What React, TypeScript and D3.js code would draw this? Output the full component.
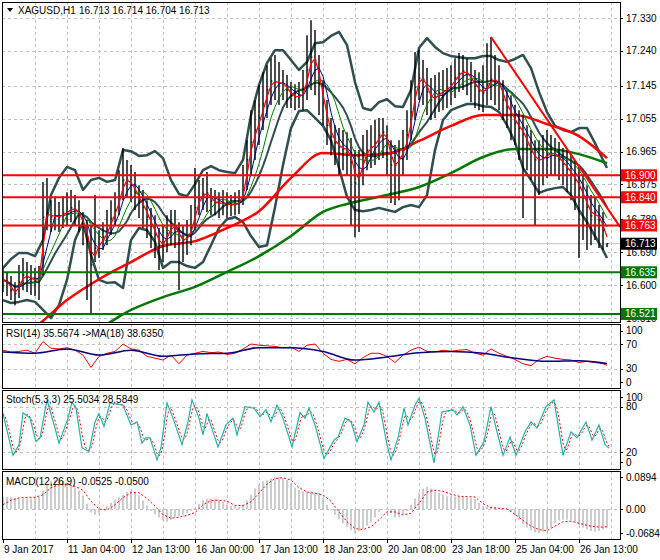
import * as d3 from "d3";

// ---- price bars (one entry per 2 hourly bars) ----
const closes = [
  16.614, 16.606, 16.586, 16.576, 16.608, 16.627, 16.622, 16.617, 16.611, 16.619,
  16.786, 16.797, 16.786, 16.789, 16.786, 16.797, 16.8, 16.811, 16.805, 16.791,
  16.759, 16.731, 16.655, 16.701, 16.712, 16.731, 16.75, 16.783, 16.805, 16.841,
  16.887, 16.887, 16.873, 16.854, 16.83, 16.813, 16.786, 16.761, 16.737, 16.709,
  16.715, 16.742, 16.761, 16.761, 16.723, 16.723, 16.731, 16.756, 16.811, 16.838,
  16.849, 16.852, 16.83, 16.824, 16.824, 16.824, 16.819, 16.819, 16.822, 16.827,
  16.86, 16.942, 16.991, 17.024, 17.057, 17.095, 17.133, 17.158, 17.155, 17.152,
  17.149, 17.133, 17.117, 17.114, 17.117, 17.125, 17.188, 17.223, 17.215, 17.147,
  17.098, 17.037, 17.005, 16.988, 16.977, 16.972, 16.969, 16.936, 16.879, 16.901,
  16.95, 16.969, 16.977, 16.988, 17.01, 17.018, 16.988, 16.928, 16.928, 16.95,
  16.969, 17.01, 17.073, 17.141, 17.166, 17.163, 17.128, 17.106, 17.114, 17.125,
  17.13, 17.138, 17.149, 17.166, 17.179, 17.185, 17.177, 17.16, 17.144, 17.13,
  17.125, 17.147, 17.163, 17.16, 17.147, 17.106, 17.084, 17.065, 17.043, 17.029,
  17.013, 16.983, 16.964, 16.942, 16.942, 16.947, 16.958, 16.961, 16.958, 16.942,
  16.931, 16.917, 16.901, 16.887, 16.865, 16.838, 16.813, 16.789, 16.797, 16.778,
  16.75, 16.713,
];
const highs = [
  16.647, 16.636, 16.625, 16.608, 16.655, 16.674, 16.663, 16.655, 16.647, 16.652,
  16.882, 16.893, 16.832, 16.838, 16.827, 16.843, 16.854, 16.86, 16.846, 16.832,
  16.8, 16.778, 16.764, 16.846, 16.75, 16.772, 16.805, 16.832, 16.854, 16.914,
  16.975, 16.942, 16.928, 16.909, 16.873, 16.86, 16.832, 16.811, 16.791, 16.756,
  16.764, 16.791, 16.805, 16.805, 16.772, 16.764, 16.778, 16.819, 16.92, 16.887,
  16.893, 16.909, 16.865, 16.86, 16.854, 16.86, 16.854, 16.846, 16.854, 16.86,
  16.928, 16.996, 17.078, 17.106, 17.147, 17.182, 17.201, 17.22, 17.229, 17.21,
  17.188, 17.174, 17.155, 17.149, 17.155, 17.188, 17.283, 17.324, 17.297, 17.229,
  17.16, 17.106, 17.057, 17.037, 17.029, 17.024, 17.018, 17.002, 16.969, 16.969,
  17.01, 17.024, 17.037, 17.051, 17.057, 17.057, 17.037, 16.996, 16.983, 16.996,
  17.024, 17.078, 17.16, 17.237, 17.242, 17.215, 17.193, 17.166, 17.174, 17.182,
  17.188, 17.193, 17.201, 17.22, 17.234, 17.229, 17.22, 17.21, 17.188, 17.182,
  17.201, 17.261, 17.278, 17.229, 17.201, 17.16, 17.133, 17.119, 17.092, 17.078,
  17.065, 17.037, 17.024, 16.996, 16.996, 17.01, 17.024, 17.01, 17.002, 16.991,
  16.975, 16.969, 16.955, 16.942, 16.928, 16.901, 16.873, 16.846, 16.838, 16.819,
  16.8, 16.714,
];
const lows = [
  16.581, 16.57, 16.559, 16.545, 16.565, 16.586, 16.581, 16.573, 16.57, 16.559,
  16.627, 16.75, 16.745, 16.75, 16.745, 16.756, 16.761, 16.772, 16.764, 16.745,
  16.709, 16.559, 16.524, 16.663, 16.674, 16.696, 16.709, 16.737, 16.764, 16.791,
  16.832, 16.838, 16.827, 16.805, 16.783, 16.756, 16.729, 16.701, 16.674, 16.641,
  16.663, 16.69, 16.709, 16.701, 16.586, 16.663, 16.682, 16.709, 16.75, 16.791,
  16.805, 16.8, 16.791, 16.791, 16.783, 16.791, 16.783, 16.789, 16.791, 16.794,
  16.819, 16.86, 16.901, 16.942, 16.983, 17.024, 17.057, 17.092, 17.106, 17.092,
  17.106, 17.084, 17.084, 17.078, 17.084, 17.078, 17.106, 17.133, 17.119, 17.065,
  17.037, 16.983, 16.955, 16.928, 16.901, 16.914, 16.901, 16.764, 16.731, 16.745,
  16.873, 16.914, 16.92, 16.928, 16.942, 16.947, 16.901, 16.824, 16.819, 16.832,
  16.901, 16.942, 16.996, 17.051, 17.106, 17.092, 17.065, 17.051, 17.057, 17.073,
  17.078, 17.084, 17.092, 17.111, 17.128, 17.133, 17.119, 17.1, 17.084, 17.078,
  17.073, 17.092, 17.106, 17.092, 17.078, 17.051, 17.029, 16.996, 16.983, 16.942,
  16.783, 16.914, 16.887, 16.764, 16.846, 16.873, 16.893, 16.901, 16.901, 16.887,
  16.873, 16.854, 16.832, 16.805, 16.674, 16.723, 16.696, 16.709, 16.723, 16.701,
  16.696, 16.704,
];

// bollinger bands, one value every 2 entries above
const bbUpper = [
  16.647, 16.671, 16.688, 16.688, 16.679, 16.723, 16.846, 16.893, 16.923, 16.914,
  16.86, 16.887, 16.893, 16.882, 16.887, 16.969, 16.966, 16.953, 16.955, 16.966,
  16.947, 16.887, 16.849, 16.843, 16.876, 16.914, 16.925, 16.914, 16.909, 16.906,
  16.942, 17.065, 17.147, 17.207, 17.242, 17.242, 17.215, 17.188, 17.21, 17.261,
  17.264, 17.281, 17.292, 17.256, 17.155, 17.084, 17.078, 17.1, 17.108, 17.089,
  17.087, 17.133, 17.248, 17.275, 17.251, 17.234, 17.226, 17.223, 17.22, 17.22,
  17.226, 17.226, 17.215, 17.21, 17.218, 17.229, 17.193, 17.128, 17.073, 17.035,
  17.024, 17.018, 17.029, 17.029, 16.988, 16.942, 16.92,
];
const bbLower = [
  16.559, 16.551, 16.554, 16.559, 16.554, 16.532, 16.51, 16.545, 16.614, 16.723,
  16.772, 16.682, 16.614, 16.606, 16.608, 16.592, 16.723, 16.756, 16.75, 16.718,
  16.647, 16.663, 16.663, 16.652, 16.647, 16.663, 16.709, 16.756, 16.78, 16.786,
  16.772, 16.734, 16.704, 16.709, 16.813, 16.928, 17.029, 17.076, 17.078, 17.057,
  17.035, 16.996, 16.92, 16.841, 16.805, 16.802, 16.805, 16.811, 16.805, 16.8,
  16.813, 16.819, 16.813, 16.846, 16.969, 17.051, 17.078, 17.087, 17.095, 17.095,
  17.089, 17.087, 17.073, 17.037, 16.991, 16.92, 16.887, 16.852, 16.86, 16.865,
  16.868, 16.846, 16.805, 16.772, 16.734, 16.696, 16.674,
];

// slow moving averages, one value every 8 entries
const maRed = [
  16.436, 16.485, 16.559, 16.616, 16.663, 16.707, 16.72, 16.756, 16.802, 16.893,
  16.961, 16.955, 16.958, 16.994, 17.035, 17.065, 17.065, 17.04, 17.007, 16.947,
];
const maGreen = [
  16.395, 16.428, 16.461, 16.483, 16.532, 16.567, 16.595, 16.636, 16.679, 16.734,
  16.8, 16.827, 16.846, 16.868, 16.906, 16.95, 16.972, 16.972, 16.958, 16.933,
];

const resistance = [16.9, 16.84, 16.763];
const support = [16.635, 16.521];
const lastPrice = 16.713;
const trendStart = { bar: 122, price: 17.278 };
const trendEnd = { bar: 154.25, price: 16.759 };

const priceTicks = [17.33, 17.24, 17.145, 17.055, 16.965, 16.875, 16.78, 16.69, 16.6, 16.51];
const timeLabels = [
  "9 Jan 2017", "11 Jan 04:00", "12 Jan 13:00", "16 Jan 00:00", "17 Jan 13:00",
  "18 Jan 23:00", "20 Jan 08:00", "23 Jan 18:00", "25 Jan 04:00", "26 Jan 13:00",
];

// RSI(14) every 2 entries, MA(18) of it every 8 entries
const rsi = [
  60, 57, 58, 60, 55, 74, 63, 62, 64, 60,
  52, 32, 50, 55, 58, 70, 62, 60, 50, 47,
  44, 52, 38, 52, 55, 58, 56, 57, 53, 55,
  62, 70, 68, 67, 66, 64, 65, 58, 68, 70,
  55, 45, 42, 45, 38, 48, 55, 55, 50, 40,
  52, 60, 65, 58, 57, 60, 58, 60, 61, 55,
  52, 62, 55, 50, 45, 38, 35, 45, 50, 47,
  45, 44, 40, 42, 40, 38, 35.6,
];
const rsiMa = [57, 55, 62, 52, 60, 50, 54, 55, 64, 64, 58, 44, 49, 56, 58, 55, 47, 42, 43, 38.6];

// Stochastic %K turning points (position in entries, value)
const stochT = [
  0, 2.5, 4, 5, 6.75, 8.25, 9.25, 11, 13, 14, 16.25, 17.25, 18.25, 19.75, 21.5, 23, 24, 25.25,
  26.75, 30, 32, 33.5, 34.75, 35.75, 36.75, 38.5, 39.5, 41, 42.5, 44.75, 46.25, 47.25, 49, 50,
  51, 52.75, 53.75, 55.75, 57.5, 58.5, 60.5, 62.75, 64.25, 65.75, 67, 68.5, 70, 72.25, 74.25,
  75.5, 76.5, 78, 80.25, 82.75, 83.75, 85.5, 87, 88.5, 90.25, 91.25, 92.75, 94, 96, 97, 98.75,
  100.25, 101.25, 103, 104, 105.5, 107.75, 109.75, 112.5, 113.5, 115, 116.75, 118.25, 120.25,
  122, 123.5, 125, 126.75, 128.25, 130.5, 132, 133.5, 135.75, 137.75, 140, 142, 143.5, 145.75,
  147.25, 149, 150.5, 151.5,
];
const stochK = [
  71, 16, 30, 72, 65, 34, 39, 89, 52, 32, 65, 86, 78, 26, 21, 60, 71, 54, 85, 82, 56, 60, 32,
  39, 39, 10, 26, 85, 65, 30, 60, 89, 65, 43, 71, 43, 27, 56, 65, 43, 80, 78, 67, 76, 60, 82,
  65, 27, 72, 65, 78, 56, 12, 36, 40, 65, 60, 34, 56, 86, 73, 86, 30, 10, 39, 78, 56, 82, 91,
  65, 6, 73, 76, 69, 80, 56, 16, 34, 80, 47, 16, 40, 16, 47, 60, 52, 80, 89, 16, 47, 39, 60,
  36, 56, 30, 25.5,
];

// MACD(12,26,9) main, one per entry; signal every 2 entries
const macd = [
  0.034, 0.034, 0.033, 0.031, 0.03, 0.03, 0.03, 0.03, 0.031, 0.034,
  0.052, 0.07, 0.079, 0.082, 0.086, 0.08, 0.074, 0.068, 0.061, 0.052,
  0.038, 0.015, -0.01, -0.016, -0.012, -0.002, 0.008, 0.018, 0.027, 0.033,
  0.04, 0.048, 0.051, 0.049, 0.038, 0.024, 0.01, -0.005, -0.015, -0.024,
  -0.031, -0.036, -0.03, -0.022, -0.02, -0.016, -0.011, -0.005, 0.003, 0.015,
  0.025, 0.029, 0.03, 0.028, 0.025, 0.02, 0.013, 0.009, 0.007, 0.006,
  0.012, 0.024, 0.04, 0.058, 0.07, 0.078, 0.082, 0.086, 0.089, 0.091,
  0.088, 0.082, 0.072, 0.06, 0.054, 0.05, 0.049, 0.05, 0.048, 0.045,
  0.032, 0.012, -0.002, -0.016, -0.028, -0.04, -0.05, -0.06, -0.068, -0.062,
  -0.056, -0.047, -0.038, -0.024, -0.008, 0.0, 0.002, -0.012, -0.024, -0.024,
  -0.016, -0.006, 0.012, 0.03, 0.046, 0.058, 0.063, 0.058, 0.05, 0.045,
  0.04, 0.036, 0.035, 0.035, 0.036, 0.035, 0.033, 0.031, 0.028, 0.018,
  0.008, 0.006, 0.007, 0.005, 0.003, 0.001, -0.003, -0.008, -0.018, -0.03,
  -0.042, -0.052, -0.06, -0.066, -0.068, -0.064, -0.06, -0.052, -0.04, -0.032,
  -0.03, -0.03, -0.031, -0.036, -0.045, -0.053, -0.058, -0.062, -0.064, -0.062,
  -0.058, -0.0525,
];
const macdSignal = [
  0.012, 0.025, 0.031, 0.033, 0.033, 0.04, 0.06, 0.069, 0.07, 0.064,
  0.053, 0.022, 0.0, -0.003, 0.012, 0.032, 0.046, 0.046, 0.03, 0.008,
  -0.016, -0.026, -0.023, -0.018, -0.01, 0.012, 0.024, 0.025, 0.022, 0.01,
  0.01, 0.02, 0.045, 0.07, 0.086, 0.088, 0.082, 0.06, 0.048, 0.044,
  0.04, 0.022, -0.008, -0.036, -0.055, -0.058, -0.05, -0.03, -0.008, -0.008,
  -0.017, -0.012, 0.016, 0.048, 0.053, 0.05, 0.042, 0.036, 0.035, 0.034,
  0.015, 0.004, 0.002, 0.0, -0.015, -0.032, -0.048, -0.058, -0.061, -0.048,
  -0.036, -0.034, -0.04, -0.046, -0.05, -0.051, -0.05,
];

const FONT = "'Liberation Sans', Arial, sans-serif";
const LEFT = 2;
const RIGHT = 620;
const MAIN = { top: 2, bottom: 322 };
const RSI_P = { top: 324, bottom: 388 };
const STO_P = { top: 390, bottom: 469 };
const MACD_P = { top: 471, bottom: 539 };
const GRID = "#C0C0C0";
const SLATE = "#2F4F4F";

const N = closes.length;
const x = d3.scaleLinear().domain([0, N - 1]).range([3, 607]);
const y = d3.scaleLinear().domain([16.51, 17.33]).range([318, 18]);
const yRsi = d3.scaleLinear().domain([0, 100]).range([387.2, 325.5]);
const ySto = d3.scaleLinear().domain([0, 100]).range([467.5, 391.5]);
const yMacd = d3.scaleLinear().domain([-0.0684, 0.0894]).range([533.3, 477.3]);

const at2 = (j: number) => Math.min(j * 2, N - 1);
const at8 = (k: number) => Math.min(k * 8, N - 1);

function sma(a: number[], n: number) {
  return a.map((_, i) => d3.mean(a.slice(Math.max(0, i - n + 1), i + 1)) as number);
}

const lineEvery = (step: (i: number) => number, ys: (v: number) => number, curve = d3.curveLinear) =>
  d3.line<number>().x((_, i) => x(step(i))).y((v) => ys(v)).curve(curve);

const priceLine = lineEvery((i) => i, y);
const band = lineEvery(at2, y);
const slowMa = lineEvery(at8, y, d3.curveMonotoneX);

const maFast = sma(closes, 2);
const maMid = sma(closes, 4);
const maSlow = sma(closes, 7);
const bbMid = sma(closes, 10);

// %D = 3-bar average of %K, sampled at hourly bars
const kAt = d3.scaleLinear().domain(stochT).range(stochK).clamp(true);
const dT = d3.range(0, stochT[stochT.length - 1] + 0.01, 0.5);
const dVals = dT.map((t) => (kAt(t) + kAt(Math.max(0, t - 0.5)) + kAt(Math.max(0, t - 1))) / 3);

const gridBars = d3.range(8, N + 1, 8);

type Panel = { top: number; bottom: number };

function Clip({ id, p }: { id: string; p: Panel }) {
  return (
    <clipPath id={id}>
      <rect x={LEFT} y={p.top} width={RIGHT - LEFT} height={p.bottom - p.top} />
    </clipPath>
  );
}

function VGrid({ p }: { p: Panel }) {
  return (
    <g stroke={GRID} strokeDasharray="3,3" shapeRendering="crispEdges">
      {gridBars.map((b) => (
        <line key={b} x1={Math.round(x(b)) + 0.5} x2={Math.round(x(b)) + 0.5} y1={p.top} y2={p.bottom} />
      ))}
    </g>
  );
}

function HGrid({ ys }: { ys: number[] }) {
  return (
    <g stroke={GRID} strokeDasharray="3,3" shapeRendering="crispEdges">
      {ys.map((v, i) => (
        <line key={i} x1={LEFT} x2={RIGHT} y1={Math.round(v) + 0.5} y2={Math.round(v) + 0.5} />
      ))}
    </g>
  );
}

function Frame({ p }: { p: Panel }) {
  return (
    <rect x={LEFT + 0.5} y={p.top + 0.5} width={RIGHT - LEFT} height={p.bottom - p.top}
      fill="none" stroke="#000" shapeRendering="crispEdges" />
  );
}

function AxisText({ label, yy }: { label: string; yy: number }) {
  return (
    <g>
      <line x1={RIGHT} x2={RIGHT + 3} y1={Math.round(yy) + 0.5} y2={Math.round(yy) + 0.5} stroke="#000" />
      <text x={626} y={yy + 3.5} fill="#000">{label}</text>
    </g>
  );
}

function Tag({ price, color }: { price: number; color: string }) {
  const yy = y(price);
  return (
    <g>
      <rect x={621} y={yy - 6} width={36} height={12} fill={color} />
      <text x={625} y={yy + 3.5} fill="#fff">{price.toFixed(3)}</text>
    </g>
  );
}

export default function App() {
  return (
    <svg width={660} height={560} style={{ position: "absolute", left: 0, top: 0, background: "#fff" }}
      fontFamily={FONT} fontSize={10}>
      <defs>
        <Clip id="cMain" p={MAIN} />
        <Clip id="cRsi" p={RSI_P} />
        <Clip id="cSto" p={STO_P} />
        <Clip id="cMacd" p={MACD_P} />
      </defs>
      <rect width={660} height={560} fill="#fff" />

      {/* main price panel */}
      <g clipPath="url(#cMain)">
        <VGrid p={MAIN} />
        <HGrid ys={priceTicks.map(y)} />
        <line x1={LEFT} x2={RIGHT} y1={y(lastPrice)} y2={y(lastPrice)} stroke={GRID} />
        <path d={band(bbUpper) ?? ""} fill="none" stroke={SLATE} strokeWidth={2.5} strokeLinejoin="round" />
        <path d={band(bbLower) ?? ""} fill="none" stroke={SLATE} strokeWidth={2.5} strokeLinejoin="round" />
        <path d={priceLine(bbMid) ?? ""} fill="none" stroke={SLATE} strokeWidth={2} strokeLinejoin="round" />
        <path d={slowMa(maGreen) ?? ""} fill="none" stroke="#007800" strokeWidth={2.5} />
        <path d={slowMa(maRed) ?? ""} fill="none" stroke="#FF0000" strokeWidth={2.5} />
        <g stroke="#000" strokeWidth={1.4}>
          {closes.map((c, i) => (
            <g key={i}>
              <line x1={x(i)} x2={x(i)} y1={y(highs[i])} y2={y(lows[i])} />
              <line x1={x(i)} x2={x(i) + 1.5} y1={y(c)} y2={y(c)} strokeWidth={1} />
            </g>
          ))}
        </g>
        <path d={priceLine(maSlow) ?? ""} fill="none" stroke="#008000" strokeWidth={1} />
        <path d={priceLine(maMid) ?? ""} fill="none" stroke="#00008B" strokeWidth={1} />
        <path d={priceLine(maFast) ?? ""} fill="none" stroke="#FF0000" strokeWidth={1.2} />
        {resistance.map((p) => (
          <line key={p} x1={LEFT} x2={RIGHT} y1={y(p)} y2={y(p)} stroke="#FF0000" strokeWidth={2} />
        ))}
        {support.map((p) => (
          <line key={p} x1={LEFT} x2={RIGHT} y1={y(p)} y2={y(p)} stroke="#007800" strokeWidth={2} />
        ))}
        <line x1={x(trendStart.bar)} y1={y(trendStart.price)} x2={x(trendEnd.bar)} y2={y(trendEnd.price)}
          stroke="#FF0000" strokeWidth={2} />
      </g>
      <Frame p={MAIN} />
      <path d="M7,8 L13,8 L10,12 Z" fill="#000" />
      <text x={18} y={14} fill="#000">XAGUSD,H1</text>
      <text x={79} y={14} fill="#000">16.713 16.714 16.704 16.713</text>
      {priceTicks.map((p) => (
        <AxisText key={p} label={p.toFixed(3)} yy={y(p)} />
      ))}
      {resistance.map((p) => (
        <Tag key={p} price={p} color="#FF0000" />
      ))}
      <Tag price={lastPrice} color="#000" />
      {support.map((p) => (
        <Tag key={p} price={p} color="#007800" />
      ))}

      {/* RSI panel */}
      <g clipPath="url(#cRsi)">
        <VGrid p={RSI_P} />
        <HGrid ys={[yRsi(70), yRsi(30)]} />
        <path d={lineEvery(at2, yRsi)(rsi) ?? ""} fill="none" stroke="#FF0000" strokeWidth={1} />
        <path d={lineEvery(at8, yRsi, d3.curveMonotoneX)(rsiMa) ?? ""} fill="none" stroke="#000080" strokeWidth={1.5} />
      </g>
      <Frame p={RSI_P} />
      <text x={6} y={337} fill="#000">RSI(14) 35.5674 -&gt;MA(18) 38.6350</text>
      <AxisText label="100" yy={yRsi(100) + 5} />
      <AxisText label="70" yy={yRsi(70)} />
      <AxisText label="30" yy={yRsi(30)} />
      <AxisText label="0" yy={yRsi(0) - 5} />

      {/* Stochastic panel */}
      <g clipPath="url(#cSto)">
        <VGrid p={STO_P} />
        <HGrid ys={[ySto(80), ySto(20)]} />
        <path
          d={d3.line<number>().x((_, i) => x(dT[i])).y((v) => ySto(v))(dVals) ?? ""}
          fill="none" stroke="#FF0000" strokeWidth={1} strokeDasharray="2,2" />
        <path
          d={d3.line<number>().x((_, i) => x(stochT[i])).y((v) => ySto(v))(stochK) ?? ""}
          fill="none" stroke="#20B2AA" strokeWidth={1.2} />
      </g>
      <Frame p={STO_P} />
      <text x={6} y={403} fill="#000">Stoch(5,3,3) 25.5034 28.5849</text>
      <AxisText label="100" yy={ySto(100) + 5.5} />
      <AxisText label="80" yy={ySto(80)} />
      <AxisText label="20" yy={ySto(20)} />
      <AxisText label="0" yy={ySto(0) - 5.5} />

      {/* MACD panel */}
      <g clipPath="url(#cMacd)">
        <VGrid p={MACD_P} />
        <HGrid ys={[yMacd(0)]} />
        <g stroke="#C0C0C0" strokeWidth={1.6}>
          {macd.map((v, i) => (
            <line key={i} x1={x(i)} x2={x(i)} y1={yMacd(0)} y2={yMacd(v)} />
          ))}
        </g>
        <path d={lineEvery(at2, yMacd)(macdSignal) ?? ""} fill="none" stroke="#FF0000" strokeWidth={1} strokeDasharray="2,2" />
      </g>
      <Frame p={MACD_P} />
      <text x={6} y={485} fill="#000">MACD(12,26,9) -0.0525 -0.0500</text>
      <AxisText label="0.0894" yy={yMacd(0.0894)} />
      <AxisText label="0.00" yy={yMacd(0)} />
      <AxisText label="-0.0684" yy={yMacd(-0.0684)} />

      {/* time axis */}
      {timeLabels.map((t, k) => {
        const xx = Math.round(x(k * 16));
        return (
          <g key={t}>
            <line x1={xx + 0.5} x2={xx + 0.5} y1={MACD_P.bottom} y2={MACD_P.bottom + 4} stroke="#000" />
            <text x={xx + 1} y={553} fill="#000">{t}</text>
          </g>
        );
      })}
    </svg>
  );
}
